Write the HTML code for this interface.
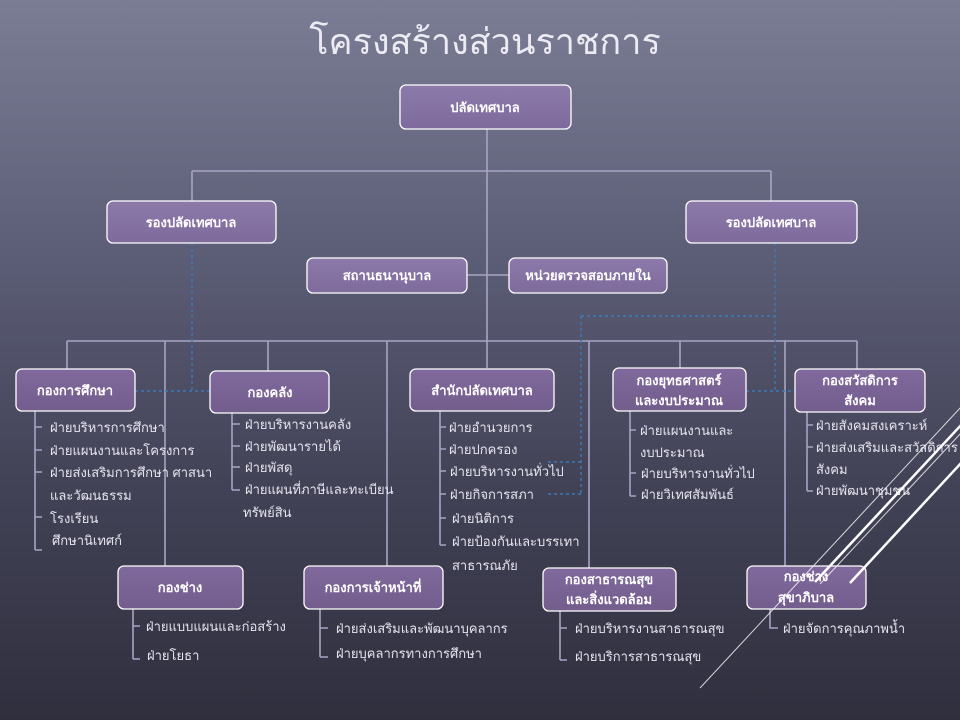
<!DOCTYPE html>
<html><head><meta charset="utf-8"><style>
html,body{margin:0;padding:0;width:960px;height:720px;overflow:hidden}
body{background:linear-gradient(180deg,#7b7d95 0%,#5c5e77 35%,#444459 65%,#2f2f3e 100%)}
svg{display:block}
text{font-family:"Liberation Sans","Noto Sans CJK SC",sans-serif}
.b{fill:#fff;font-weight:bold;font-size:13px;text-anchor:middle}
.t{fill:#e6e4ee;font-size:13px}
.box{stroke:#fff;stroke-width:1.3}
.l{stroke:#a7a4c4;stroke-width:1.6;fill:none}
.d{stroke:#3a7ab4;stroke-width:1.4;stroke-dasharray:3,3;fill:none}
</style></head><body>
<svg width="960" height="720" viewBox="0 0 960 720">
<defs>
<linearGradient id="g1" x1="0" y1="0" x2="0" y2="1"><stop offset="0" stop-color="#8c7aab"/><stop offset="1" stop-color="#7e6b9c"/></linearGradient>
<linearGradient id="g2" x1="0" y1="0" x2="0" y2="1"><stop offset="0" stop-color="#80699c"/><stop offset="1" stop-color="#735d8d"/></linearGradient>
</defs>
<text x="485" y="54" fill="#eceaf2" font-size="36" text-anchor="middle" font-family="Liberation Sans,Noto Sans CJK SC,sans-serif">โครงสร้างส่วนราชการ</text>

<!-- connectors -->
<path class="l" d="M487 129V368 M192 171H771 M192 171V201 M771 171V201 M467 275H509 M67 341H857 M67 341V369 M268 341V371 M680 341V368 M857 341V369 M165 341V566 M387 341V566 M589 341V568 M785 341V566"/>
<!-- sub-lists brackets -->
<path class="l" d="M35 411V550 M35 427H42 M35 450H42 M35 472H42 M35 517H42 M35 550H42
M232 413V490 M232 424H240 M232 446H240 M232 467H240 M232 490H240
M440 411V545 M440 427H446 M440 449H446 M440 471H446 M440 494H446 M440 518H446 M440 545H446
M630 411V496 M630 430H636 M630 473H636 M630 496H636
M807 412V491 M807 425H813 M807 447H813 M807 491H813
M133 609V659 M133 626H140 M133 659H140
M320 609V657 M320 628H328 M320 657H328
M560 611V660 M560 628H567 M560 660H567
M770 609V628H778"/>
<!-- dashed -->
<path class="d" d="M775 243V391 M581 316H775 M581 316V494 M548 462H581 M548 494H581 M746 391H795 M192 243V391 M135 391H210"/>

<!-- boxes -->
<rect class="box" x="400" y="85" width="171" height="44" rx="6" fill="url(#g1)"/>
<rect class="box" x="107" y="201" width="169" height="42" rx="6" fill="url(#g1)"/>
<rect class="box" x="686" y="201" width="171" height="42" rx="6" fill="url(#g1)"/>
<rect class="box" x="307" y="258" width="160" height="35" rx="6" fill="url(#g1)"/>
<rect class="box" x="509" y="258" width="158" height="35" rx="6" fill="url(#g1)"/>
<rect class="box" x="16" y="369" width="119" height="42" rx="6" fill="url(#g2)"/>
<rect class="box" x="210" y="371" width="119" height="42" rx="6" fill="url(#g2)"/>
<rect class="box" x="410" y="369" width="144" height="42" rx="6" fill="url(#g2)"/>
<rect class="box" x="613" y="368" width="133" height="43" rx="6" fill="url(#g2)"/>
<rect class="box" x="795" y="369" width="130" height="43" rx="6" fill="url(#g2)"/>
<rect class="box" x="118" y="566" width="125" height="43" rx="6" fill="url(#g2)"/>
<rect class="box" x="304" y="566" width="139" height="43" rx="6" fill="url(#g2)"/>
<rect class="box" x="543" y="568" width="133" height="43" rx="6" fill="url(#g2)"/>
<rect class="box" x="747" y="566" width="119" height="43" rx="6" fill="url(#g2)"/>

<text class="b" x="485" y="112">ปลัดเทศบาล</text>
<text class="b" x="191" y="227">รองปลัดเทศบาล</text>
<text class="b" x="771" y="227">รองปลัดเทศบาล</text>
<text class="b" x="387" y="280">สถานธนานุบาล</text>
<text class="b" x="588" y="280">หน่วยตรวจสอบภายใน</text>
<text class="b" x="75" y="395">กองการศึกษา</text>
<text class="b" x="270" y="397">กองคลัง</text>
<text class="b" x="482" y="395">สำนักปลัดเทศบาล</text>
<text class="b" x="679" y="385">กองยุทธศาสตร์</text>
<text class="b" x="679" y="405">และงบประมาณ</text>
<text class="b" x="860" y="385">กองสวัสดิการ</text>
<text class="b" x="860" y="405">สังคม</text>
<text class="b" x="180" y="592">กองช่าง</text>
<text class="b" x="373" y="592">กองการเจ้าหน้าที่</text>
<text class="b" x="609" y="584">กองสาธารณสุข</text>
<text class="b" x="609" y="604">และสิ่งแวดล้อม</text>
<text class="b" x="806" y="581">กองช่าง</text>
<text class="b" x="806" y="602">สุขาภิบาล</text>

<!-- lists -->
<g class="t">
<text x="50" y="432">ฝ่ายบริหารการศึกษา</text>
<text x="50" y="455">ฝ่ายแผนงานและโครงการ</text>
<text x="50" y="477">ฝ่ายส่งเสริมการศึกษา ศาสนา</text>
<text x="50" y="500">และวัฒนธรรม</text>
<text x="50" y="523">โรงเรียน</text>
<text x="52" y="545">ศึกษานิเทศก์</text>
<text x="245" y="429">ฝ่ายบริหารงานคลัง</text>
<text x="245" y="451">ฝ่ายพัฒนารายได้</text>
<text x="245" y="472">ฝ่ายพัสดุ</text>
<text x="245" y="494">ฝ่ายแผนที่ภาษีและทะเบียน</text>
<text x="243" y="517">ทรัพย์สิน</text>
<text x="449" y="432">ฝ่ายอำนวยการ</text>
<text x="449" y="454">ฝ่ายปกครอง</text>
<text x="450" y="476">ฝ่ายบริหารงานทั่วไป</text>
<text x="450" y="499">ฝ่ายกิจการสภา</text>
<text x="452" y="523">ฝ่ายนิติการ</text>
<text x="452" y="546">ฝ่ายป้องกันและบรรเทา</text>
<text x="452" y="570">สาธารณภัย</text>
<text x="640" y="435">ฝ่ายแผนงานและ</text>
<text x="640" y="457">งบประมาณ</text>
<text x="641" y="478">ฝ่ายบริหารงานทั่วไป</text>
<text x="641" y="499">ฝ่ายวิเทศสัมพันธ์</text>
<text x="816" y="430">ฝ่ายสังคมสงเคราะห์</text>
<text x="816" y="452">ฝ่ายส่งเสริมและสวัสดิการ</text>
<text x="816" y="474">สังคม</text>
<text x="816" y="495">ฝ่ายพัฒนาชุมชน</text>
<text x="146" y="631">ฝ่ายแบบแผนและก่อสร้าง</text>
<text x="147" y="660">ฝ่ายโยธา</text>
<text x="336" y="633">ฝ่ายส่งเสริมและพัฒนาบุคลากร</text>
<text x="336" y="658">ฝ่ายบุคลากรทางการศึกษา</text>
<text x="575" y="633">ฝ่ายบริหารงานสาธารณสุข</text>
<text x="575" y="661">ฝ่ายบริการสาธารณสุข</text>
<text x="783" y="633">ฝ่ายจัดการคุณภาพน้ำ</text>
</g>

<!-- decorative diagonals -->
<g stroke="#ffffff" fill="none">
<line x1="962" y1="406" x2="700" y2="688" stroke-width="1" opacity="0.8"/>
<line x1="962" y1="424" x2="815" y2="582" stroke-width="2.5"/>
<line x1="962" y1="432" x2="820" y2="584" stroke-width="1" opacity="0.8"/>
<line x1="962" y1="462" x2="850" y2="583" stroke-width="2.5"/>
</g>
</svg>
</body></html>
